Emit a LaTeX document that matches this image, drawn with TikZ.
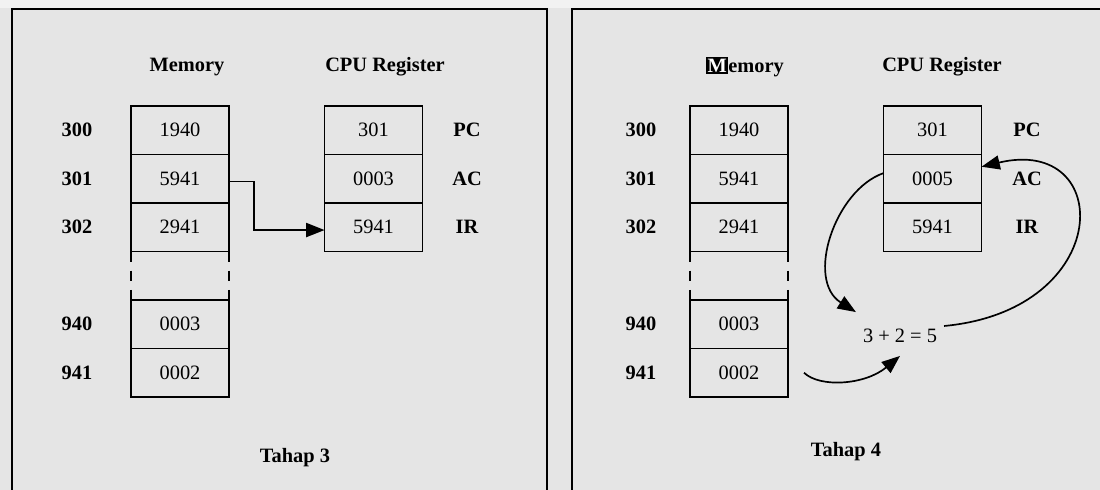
\documentclass[tikz,border=0pt]{standalone}
\usepackage{fontspec}
\setmainfont{Liberation Serif}
\usetikzlibrary{arrows.meta}
\definecolor{panelgray}{RGB}{229,229,229}
\definecolor{papergray}{RGB}{242,242,242}
\tikzset{
  cell/.style={draw, line width=1.3pt, minimum width=2.45cm, minimum height=1.2125cm, inner sep=0pt, outer sep=0pt},
  lbl/.style={font=\bfseries},
  gap/.style={line width=1.3pt, dash pattern=on 0.25cm off 0.231cm},
  flow/.style={line width=1.2pt, -{Triangle[length=13pt,width=10pt]}},
  frame/.style={line width=1.3pt}
}
\begin{document}
\fontsize{14.5}{17}\selectfont
\begin{tikzpicture}[x=0.025cm, y=-0.025cm]
    \useasboundingbox (0,0) rectangle (1100,490);
    % Фон
    \fill[panelgray] (0,0) rectangle (1100,490);
    \fill[papergray] (0,0) rectangle (1100,8);

    % Рамки этапов
    \draw[frame] (12,495) -- (12,9) -- (547,9) -- (547,495);
    \draw[frame] (572,495) -- (572,9) -- (1105,9);

    % ===== Этап 3 =====
    \node[lbl] (mt3) at (187,67) {Memory};
    \node[lbl] (ct3) at (385,67) {CPU Register};
    \foreach \adr/\val/\yy in {300/1940/130.25, 301/5941/178.75, 302/2941/227.25, 940/0003/324.25, 941/0002/372.75} {
        \node[cell] (m3-\adr) at (180,\yy) {\val};
        \node[lbl] (a3-\adr) at (77,\yy) {\adr};
    }
    \draw[gap] (m3-302.south west) -- (m3-940.north west); % Пропуск
    \draw[gap] (m3-302.south east) -- (m3-940.north east);
    \foreach \reg/\val/\yy in {PC/301/130.25, AC/0003/178.75, IR/5941/227.25} {
        \node[cell] (r3-\reg) at (373.5,\yy) {\val};
        \node[lbl] (l3-\reg) at (467,\yy) {\reg};
    }
    \draw[flow] ([yshift=-0.07cm]m3-301.east) -- ++(25,0) |- ([yshift=-0.07cm]r3-IR.west);
    \node[lbl] (t3) at (295,458) {Tahap 3};

    % ===== Этап 4 =====
    \node[lbl] (mt4) at (745,67) {{\setlength{\fboxsep}{1pt}\colorbox{black}{\textcolor{white}{M}}}emory};
    \node[lbl] (ct4) at (942,67) {CPU Register};
    \foreach \adr/\val/\yy in {300/1940/130.25, 301/5941/178.75, 302/2941/227.25, 940/0003/324.25, 941/0002/372.75} {
        \node[cell] (m4-\adr) at (739,\yy) {\val};
        \node[lbl] (a4-\adr) at (641,\yy) {\adr};
    }
    \draw[gap] (m4-302.south west) -- (m4-940.north west);
    \draw[gap] (m4-302.south east) -- (m4-940.north east);
    \foreach \reg/\val/\yy in {PC/301/130.25, AC/0005/178.75, IR/5941/227.25} {
        \node[cell] (r4-\reg) at (932.5,\yy) {\val};
        \node[lbl] (l4-\reg) at (1027,\yy) {\reg};
    }
    \node (sum) at (900,336) {3 + 2 = 5};
    % Сложение: AC -> сумма, 0002 -> сумма, сумма -> AC
    \draw[flow] ([yshift=0.14cm]r4-AC.west) .. controls (835,190) and (805,280) .. ([yshift=0.25cm]sum.north west);
    \draw[flow] ([xshift=0.4cm]m4-941.east) .. controls (820,388) and (865,385) .. ([yshift=-0.15cm]sum.south);
    \draw[flow] ([yshift=0.25cm]sum.east) .. controls (1115,310) and (1115,135) .. ([yshift=0.3cm]r4-AC.east);
    \node[lbl] (t4) at (846,452) {Tahap 4};
\end{tikzpicture}
\end{document}
